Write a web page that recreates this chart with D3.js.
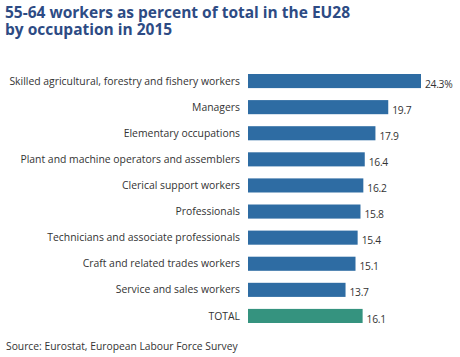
<!DOCTYPE html>
<html><head><meta charset="utf-8">
<script src="https://cdn.jsdelivr.net/npm/d3@7"></script>
<style>body{margin:0;background:#fff;} svg{display:block;}</style>
</head><body>
<svg id="c" width="460" height="357"></svg>
<script>
const categories = ["Skilled agricultural, forestry and fishery workers","Managers","Elementary occupations","Plant and machine operators and assemblers","Clerical support workers","Professionals","Technicians and associate professionals","Craft and related trades workers","Service and sales workers","TOTAL"];
const values = [24.3,19.7,17.9,16.4,16.2,15.8,15.4,15.1,13.7,16.1];
const valueLabels = ["24.3%","19.7","17.9","16.4","16.2","15.8","15.4","15.1","13.7","16.1"];
const titleLines = ["55-64 workers as percent of total in the EU28","by occupation in 2015"];
const source = "Source: Eurostat, European Labour Force Survey";

const svg = d3.select("#c");
const font = "'Open Sans', sans-serif";
const x = d3.scaleLinear().domain([0, 24.3]).range([248, 421]);
const y = d3.scaleBand().domain(categories).range([68, 329]).paddingInner(0.46).paddingOuter(0.23);

svg.selectAll("text.title").data(titleLines).join("text")
  .attr("x", 5).attr("y", (d,i)=>18 + i*17)
  .attr("font-family", font).attr("font-weight", "bold").attr("font-size", 15.5)
  .attr("fill", "#2d4b84").text(d=>d);

svg.selectAll("rect.bar").data(values).join("rect")
  .attr("x", x(0)).attr("y", (d,i)=>y(categories[i]))
  .attr("width", d=>x(d)-x(0)).attr("height", y.bandwidth())
  .attr("fill", (d,i)=>categories[i]==="TOTAL" ? "#35937f" : "#2e6ca3");

svg.selectAll("text.cat").data(categories).join("text")
  .attr("x", 240).attr("y", d=>y(d)+y.bandwidth()/2)
  .attr("dy", "0.35em").attr("text-anchor", "end")
  .attr("font-family", font).attr("font-size", 10.4).attr("fill", "#333")
  .text(d=>d);

svg.selectAll("text.val").data(values).join("text")
  .attr("x", d=>x(d)+4).attr("y", (d,i)=>y(categories[i])+y.bandwidth()/2+3)
  .attr("dy", "0.35em")
  .attr("font-family", font).attr("font-size", 10.3).attr("fill", "#333")
  .attr("letter-spacing", -0.3)
  .text((d,i)=>valueLabels[i]);

svg.append("text").attr("x", 6).attr("y", 350)
  .attr("font-family", font).attr("font-size", 10.3).attr("fill", "#333")
  .text(source);
</script>
</body></html>
